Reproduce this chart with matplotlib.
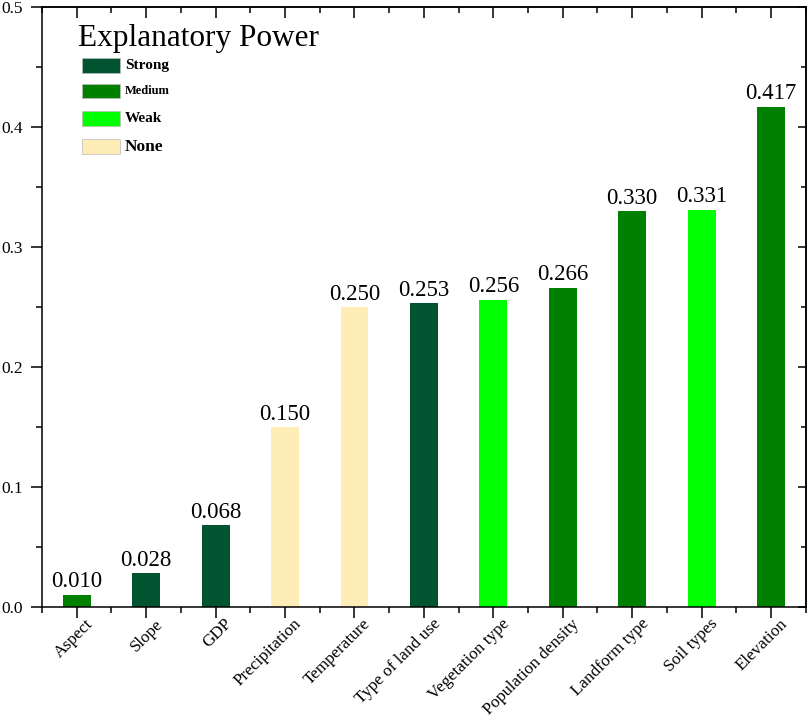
import matplotlib.pyplot as plt
from matplotlib.patches import Rectangle
from matplotlib.ticker import MultipleLocator, FixedLocator
from matplotlib.transforms import ScaledTranslation

plt.rcParams['font.family'] = ['Liberation Serif', 'DejaVu Serif']

factors = ['Aspect', 'Slope', 'GDP', 'Precipitation', 'Temperature',
           'Type of land use', 'Vegetation type', 'Population density',
           'Landform type', 'Soil types', 'Elevation']
values = [0.010, 0.028, 0.068, 0.150, 0.250, 0.253, 0.256, 0.266, 0.330, 0.331, 0.417]
power = ['Medium', 'Strong', 'Strong', 'None', 'None', 'Strong', 'Weak',
         'Medium', 'Medium', 'Weak', 'Medium']

levels = ['Strong', 'Medium', 'Weak', 'None']
level_colors = {'Strong': '#005530', 'Medium': '#008000', 'Weak': '#00ff00', 'None': '#ffedb8'}
level_sizes = {'Strong': 11, 'Medium': 9, 'Weak': 11, 'None': 12.5}

fig = plt.figure(figsize=(8.09, 7.19), dpi=100)
ax = fig.add_axes([0.052, 0.156, 0.944, 0.834])

x = list(range(len(factors)))
ax.bar(x, values, width=0.4, color=[level_colors[p] for p in power])

for xi, v in zip(x, values):
    ax.text(xi, v + 0.002, f'{v:.3f}', ha='center', va='bottom', fontsize=16.5)

minor_x = [i - 0.5 for i in range(len(factors) + 1)]

ax.set_xlim(-0.5, len(factors) - 0.5)
ax.set_ylim(0, 0.5)
ax.set_xticks(x)
ax.set_xticklabels(factors, rotation=45, ha='right', va='top', rotation_mode='anchor', fontsize=12.3)
ax.xaxis.set_minor_locator(FixedLocator(minor_x))
ax.yaxis.set_major_locator(MultipleLocator(0.1))
ax.yaxis.set_minor_locator(MultipleLocator(0.05))
ax.yaxis.set_major_formatter(plt.FormatStrFormatter('%.1f'))
ax.tick_params(axis='both', which='major', direction='out', length=8, width=1.1)
ax.tick_params(axis='both', which='minor', direction='out', length=4.5, width=1.1)
ax.tick_params(axis='y', labelsize=12.5, pad=6)
ax.tick_params(axis='x', pad=0)
shift = ScaledTranslation(6 / 72, 1.5 / 72, fig.dpi_scale_trans)
for lab in ax.get_xticklabels():
    lab.set_transform(lab.get_transform() + shift)

for s in ax.spines.values():
    s.set_linewidth(1.1)

# inward ticks on top and right
top = ax.secondary_xaxis('top')
top.set_xticks(x)
top.xaxis.set_minor_locator(FixedLocator(minor_x))
top.tick_params(which='major', direction='in', length=8, width=1.1, labeltop=False)
top.tick_params(which='minor', direction='in', length=4.5, width=1.1)
right = ax.secondary_yaxis('right')
right.yaxis.set_major_locator(MultipleLocator(0.1))
right.yaxis.set_minor_locator(MultipleLocator(0.05))
right.tick_params(which='major', direction='in', length=6, width=1.1, labelright=False)
right.tick_params(which='minor', direction='in', length=3.5, width=1.1)
for sec in (top, right):
    for s in sec.spines.values():
        s.set_linewidth(1.1)

# legend drawn by hand (title + colour keys)
ax.text(0.047, 0.947, 'Explanatory Power', transform=ax.transAxes,
        ha='left', va='center', fontsize=22.5)
row_y = [0.9025, 0.86, 0.814, 0.7675]
for l, yy in zip(levels, row_y):
    ax.add_patch(Rectangle((0.0524, yy - 0.0121), 0.0497, 0.0242, transform=ax.transAxes,
                           facecolor=level_colors[l], edgecolor='#bbbbbb', linewidth=0.5))
    ax.text(0.1087, yy, l, transform=ax.transAxes, ha='left', va='center',
            fontsize=level_sizes[l], fontweight='bold')

fig.savefig('out.png', dpi=100)
